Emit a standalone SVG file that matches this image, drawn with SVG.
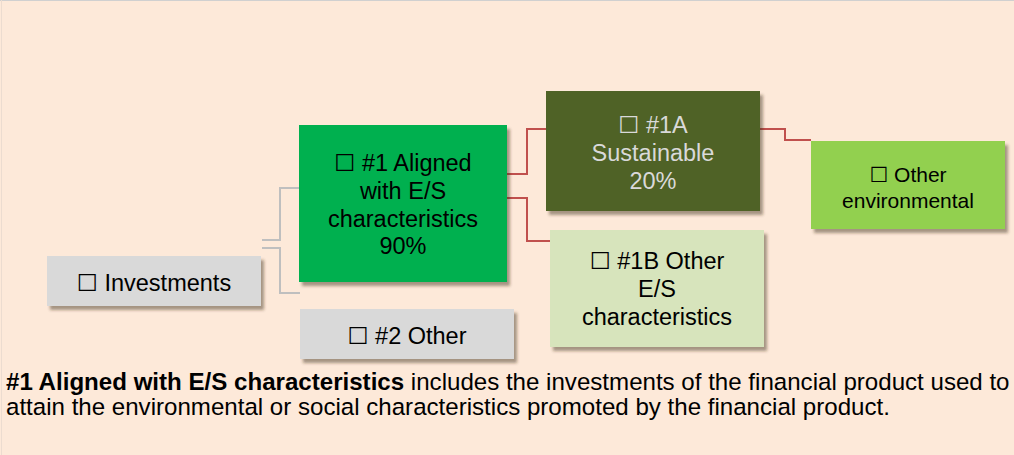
<svg xmlns="http://www.w3.org/2000/svg" width="1014" height="455" viewBox="0 0 1014 455">
<defs>
<filter id="sh" x="-10%" y="-10%" width="130%" height="140%">
<feDropShadow dx="3" dy="4" stdDeviation="1.6" flood-color="#3a2a1a" flood-opacity="0.45"/>
</filter>
</defs>
<style>
text{font-family:"Liberation Sans",Arial,"DejaVu Sans",sans-serif;font-size:23.5px;text-anchor:middle;fill:#000}
.lt{fill:#d9d9d9}
.sm{font-size:21px}
.conn path{fill:none;stroke-width:2}
.g{stroke:#bfbfbf}
.r{stroke:#c0504d}
.note{text-anchor:start;font-size:24.1px}
</style>
<rect x="0" y="0" width="1014" height="455" fill="#fde9d9"/>
<line x1="0" y1="0.5" x2="1014" y2="0.5" stroke="#d0d0d0" stroke-width="1"/>
<line x1="1.5" y1="0" x2="1.5" y2="455" stroke="#ecdcd0" stroke-width="1"/>
<g class="conn" id="connectors">
<path class="g" d="M262 240 H280 V188 H299"/>
<path class="g" d="M262 248 H280 V293 H300"/>
<path class="r" d="M507 174 H527 V129 H546"/>
<path class="r" d="M507 198 H527 V241 H550"/>
<path class="r" d="M760 129 H785 V140 H811"/>
</g>
<g id="investments">
<rect x="47" y="256" width="214" height="50" fill="#d9d9d9" filter="url(#sh)"/>
<text x="154" y="291">☐ Investments</text>
</g>
<g id="other2">
<rect x="300" y="309" width="214" height="50" fill="#d9d9d9" filter="url(#sh)"/>
<text x="407" y="344">☐ #2 Other</text>
</g>
<g id="aligned">
<rect x="299" y="125" width="208" height="157" fill="#00b050" filter="url(#sh)"/>
<text x="403" y="171">☐ #1 Aligned</text>
<text x="403" y="199">with E/S</text>
<text x="403" y="227">characteristics</text>
<text x="403" y="254">90%</text>
</g>
<g id="sustainable">
<rect x="546" y="91" width="214" height="120" fill="#4f6228" filter="url(#sh)"/>
<text x="653" y="133" class="lt">☐ #1A</text>
<text x="653" y="161" class="lt">Sustainable</text>
<text x="653" y="189" class="lt">20%</text>
</g>
<g id="otherES">
<rect x="550" y="230" width="214" height="117" fill="#d7e4bc" filter="url(#sh)"/>
<text x="657" y="269">☐ #1B Other</text>
<text x="657" y="297">E/S</text>
<text x="657" y="325">characteristics</text>
</g>
<g id="otherEnv">
<rect x="811" y="141" width="194" height="88" fill="#92d050" filter="url(#sh)"/>
<text x="908" y="182" class="sm">☐ Other</text>
<text x="908" y="208" class="sm">environmental</text>
</g>
<text class="note" x="6" y="390"><tspan font-weight="bold">#1 Aligned with E/S characteristics</tspan> includes the investments of the financial product used to</text>
<text class="note" x="6" y="415">attain the environmental or social characteristics promoted by the financial product.</text>
</svg>
